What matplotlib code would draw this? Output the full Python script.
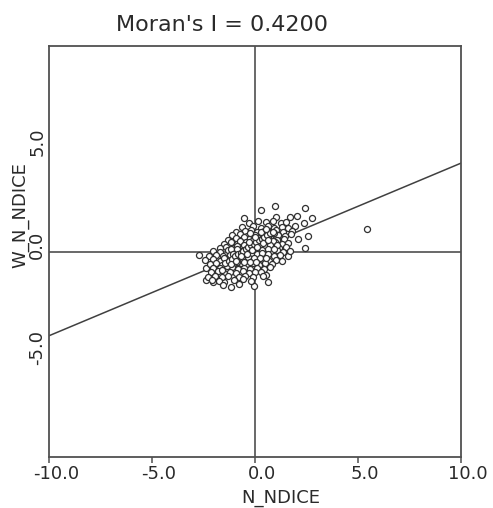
import matplotlib
matplotlib.use("Agg")
import matplotlib.pyplot as plt
import matplotlib.transforms as mtransforms

# ---- data ----
title_text = "Moran's I = 0.4200"
x_label = "N_NDICE"
y_label = "W_N_NDICE"
x_ticks = [-10, -5, 0, 5, 10]
x_tick_labels = ["-10.0", "-5.0", "0.0", "5.0", "10.0"]
y_ticks = [-5, 0, 5]
y_tick_labels = ["-5.0", "0.0", "5.0"]
moran_slope = 0.42
moran_intercept = 0.10

pts_outer = [(0.29, 2.03), (0.99, 2.19), (2.43, 2.11), (-0.52, 1.65), (-0.28, 1.38), (1.02, 1.70),
             (1.71, 1.70), (2.04, 1.74), (2.75, 1.62), (2.39, 1.38), (5.44, 1.09), (-0.92, 0.97),
             (2.59, 0.76), (2.10, 0.60), (2.43, 0.19), (-2.70, -0.16), (-2.38, -0.81), (-2.38, -1.38),
             (-2.05, -1.46), (-1.49, -1.46), (-1.17, -1.75), (-0.03, -1.67), (0.62, -1.49),
             (0.53, -1.13), (1.59, -0.24)]
pts_rows = [
    (0.15, 1.48), (0.55, 1.42), (0.85, 1.50), (1.25, 1.38), (1.5, 1.45),
    (-0.62, 1.18), (-0.1, 1.25), (0.3, 1.15), (0.62, 1.22), (0.92, 1.12), (1.3, 1.20), (1.62, 1.15), (1.95, 1.25),
    (-0.5, 0.98), (-0.2, 1.04), (0.08, 0.95), (0.42, 1.02), (0.72, 0.96), (1.02, 1.05), (1.38, 0.94), (1.8, 1.0),
    (-1.1, 0.78), (-0.72, 0.84), (-0.38, 0.76), (0.02, 0.82), (0.28, 0.74), (0.52, 0.85), (0.8, 0.78), (1.12, 0.82), (1.48, 0.75), (1.75, 0.86),
    (-1.3, 0.58), (-0.9, 0.64), (-0.6, 0.55), (-0.3, 0.62), (0.0, 0.57), (0.22, 0.65), (0.48, 0.56), (0.78, 0.63), (1.08, 0.55), (1.4, 0.62),
    (-1.5, 0.38), (-1.18, 0.44), (-0.88, 0.36), (-0.6, 0.42), (-0.32, 0.35), (-0.08, 0.45), (0.18, 0.38), (0.42, 0.43), (0.7, 0.36), (0.98, 0.44), (1.3, 0.37), (1.62, 0.42),
    (-1.72, 0.18), (-1.4, 0.24), (-1.02, 0.16), (-0.72, 0.22), (-0.42, 0.15), (-0.18, 0.25), (0.1, 0.18), (0.32, 0.23), (0.6, 0.15), (0.88, 0.24), (1.18, 0.17), (1.5, 0.22),
    (-2.02, 0.02), (-1.7, -0.04), (-1.32, 0.05), (-1.0, -0.03), (-0.7, 0.04), (-0.4, -0.02), (-0.12, 0.05), (0.18, -0.04), (0.48, 0.03), (0.78, -0.02), (1.08, 0.05), (1.38, -0.03), (1.72, 0.02),
    (-2.22, -0.22), (-1.9, -0.17), (-1.55, -0.24), (-1.22, -0.18), (-0.92, -0.23), (-0.62, -0.16), (-0.3, -0.22), (0.0, -0.18), (0.3, -0.24), (0.6, -0.17), (0.9, -0.22), (1.22, -0.18),
    (-2.42, -0.42), (-2.02, -0.38), (-1.72, -0.44), (-1.4, -0.37), (-1.1, -0.43), (-0.8, -0.38), (-0.5, -0.44), (-0.2, -0.36), (0.1, -0.42), (0.4, -0.37), (0.7, -0.44), (1.0, -0.4), (1.3, -0.45),
    (-2.2, -0.62), (-1.88, -0.57), (-1.6, -0.64), (-1.3, -0.58), (-1.0, -0.63), (-0.7, -0.56), (-0.4, -0.62), (-0.1, -0.58), (0.2, -0.64), (0.5, -0.57), (0.82, -0.62),
    (-2.02, -0.82), (-1.72, -0.78), (-1.42, -0.84), (-1.12, -0.77), (-0.82, -0.83), (-0.52, -0.78), (-0.22, -0.84), (0.1, -0.78), (0.42, -0.83), (0.72, -0.77),
    (-2.12, -1.02), (-1.8, -0.97), (-1.5, -1.04), (-1.2, -0.98), (-0.9, -1.03), (-0.6, -0.97), (-0.3, -1.04), (0.02, -0.98), (0.3, -1.02),
    (-2.28, -1.22), (-1.92, -1.18), (-1.6, -1.24), (-1.3, -1.17), (-0.8, -1.22), (-0.5, -1.18), (-0.12, -1.25), (0.38, -1.2),
    (-2.1, -1.38), (-1.75, -1.42), (-1.0, -1.4), (-0.6, -1.36), (-0.2, -1.44),
    (-0.8, -1.6), (-1.55, -1.62),
]
pts_core = [
    (-0.55, 0.72), (-0.25, 0.9), (0.15, 0.68), (0.38, 0.9), (0.65, 0.7), (0.9, 0.88),
    (-0.75, 0.5), (-0.45, 0.48), (-0.15, 0.52), (0.1, 0.5), (0.35, 0.52), (0.6, 0.48), (0.88, 0.5),
    (-0.85, 0.28), (-0.55, 0.3), (-0.28, 0.28), (0.0, 0.32), (0.25, 0.3), (0.5, 0.28), (0.75, 0.32), (1.05, 0.3),
    (-1.15, 0.1), (-0.85, 0.1), (-0.55, 0.08), (-0.25, 0.12), (0.05, 0.1), (0.32, 0.08), (0.62, 0.12), (0.92, 0.1),
    (-1.05, -0.1), (-0.78, -0.1), (-0.48, -0.08), (-0.18, -0.12), (0.08, -0.1), (0.35, -0.08), (0.65, -0.1),
    (-0.95, -0.3), (-0.65, -0.3), (-0.35, -0.28), (-0.05, -0.3), (0.22, -0.32), (0.52, -0.3),
    (-1.25, -0.5), (-0.85, -0.5), (-0.55, -0.52), (-0.25, -0.5), (0.05, -0.5),
    (-1.5, -0.3), (-1.35, -0.7), (-1.6, -0.9),
]
pts_diag = [
    (-1.45, -0.55), (-1.28, -0.45), (-1.12, -0.35), (-0.98, -0.22), (-0.84, -0.14), (-0.7, -0.06),
    (-0.58, 0.03), (-0.46, 0.12), (-0.33, 0.2), (-0.2, 0.3), (-0.06, 0.38), (0.06, 0.46),
    (0.2, 0.54), (0.34, 0.62), (0.46, 0.7), (0.6, 0.8), (0.74, 0.88), (0.86, 0.95),
    (-1.18, -0.62), (-0.92, -0.45), (-0.66, -0.24), (-0.4, -0.12), (-0.14, 0.06), (0.12, 0.24),
    (0.38, 0.4), (0.64, 0.58), (-0.3, 0.45), (0.0, 0.7), (0.28, 0.95), (0.55, 1.1),
]
points = pts_outer + pts_rows + pts_core + pts_diag
xs = [p[0] for p in points]
ys = [p[1] for p in points]

# ---- figure ----
W, H = 493, 508
fig = plt.figure(figsize=(W / 100, H / 100), dpi=100)
ax = fig.add_axes([49 / W, 1 - 457 / H, 412 / W, 411 / H])

gray = "#404040"
txt = "#2a2a2a"
ax.set_xlim(-10, 10)
ax.set_ylim(-10, 10)
ax.axhline(0, color=gray, lw=1.1, zorder=1)
ax.axvline(0, color=gray, lw=1.1, zorder=1)
ax.scatter(xs, ys, s=19, facecolors="white", edgecolors="#303030", linewidths=0.9, zorder=3)
lx = [-10, 10]
ax.plot(lx, [moran_intercept + moran_slope * v for v in lx], color=gray, lw=1.1, zorder=2)

for sp in ax.spines.values():
    sp.set_color("#505050")
    sp.set_linewidth(1.3)

ax.set_xticks(x_ticks)
ax.set_xticklabels(x_tick_labels, fontsize=13, color=txt)
ax.set_yticks(y_ticks)
ax.set_yticklabels(y_tick_labels, fontsize=13, color=txt, rotation=90, va="center")
ax.tick_params(axis="x", direction="out", length=4, width=1.1, color="#505050", pad=1.5)
ax.tick_params(axis="y", direction="out", length=0, width=1.1, color="#505050", pad=2)

dx = mtransforms.ScaledTranslation(7 / 100, 0, fig.dpi_scale_trans)
for lab in ax.get_xticklabels():
    lab.set_transform(lab.get_transform() + dx)
dy = mtransforms.ScaledTranslation(0, 7 / 100, fig.dpi_scale_trans)
for lab in ax.get_yticklabels():
    lab.set_transform(lab.get_transform() + dy)

fig.text(222 / W, 1 - 25 / H, title_text, fontsize=16, color=txt, ha="center", va="center")
fig.text(281 / W, 1 - 498 / H, x_label, fontsize=13, color=txt, ha="center", va="center")
fig.text(20 / W, 1 - 215 / H, y_label, fontsize=13, color=txt, ha="center", va="center", rotation=90)

fig.savefig("out.png", dpi=100)
